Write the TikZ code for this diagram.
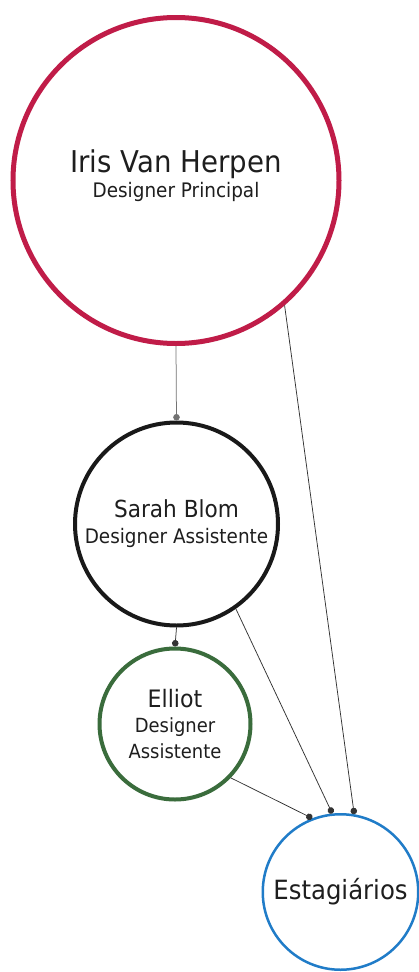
\documentclass[tikz,border=0pt]{standalone}
\usepackage[svgnames]{xcolor}
\usepackage{fontspec}
\setmainfont{DejaVu Sans}[FakeStretch=0.92]
\usetikzlibrary{arrows.meta}

\definecolor{IrisRed}{RGB}{192,28,72}
\definecolor{ElliotGreen}{RGB}{58,108,60}
\definecolor{InternBlue}{RGB}{32,124,200}
\definecolor{TextGray}{RGB}{30,30,30}

\begin{document}
\begin{tikzpicture}[x=1pt, y=-1pt,
  person/.style={circle, draw, fill=white, text=TextGray, align=center, inner sep=0pt},
  link/.style={-{Circle[length=6.5pt]}, draw=black!80, line width=0.75pt}]
\useasboundingbox [fill=white] (0,0) rectangle (419,972);

\node [person, draw=IrisRed, line width=5pt, minimum size=326pt, font=\fontsize{20}{25}\selectfont]
  (Iris) at (176,180.5) {{\fontsize{30}{25}\selectfont Iris Van Herpen}\\Designer Principal\\[-12pt]\mbox{}};
\node [person, draw=black!90, line width=4pt, minimum size=203pt, font=\fontsize{20}{26}\selectfont]
  (Sarah) at (176.5,524) {{\fontsize{23.5}{26}\selectfont Sarah Blom}\\Designer Assistente};
\node [person, draw=ElliotGreen, line width=4pt, minimum size=151pt, font=\fontsize{19.5}{25.6}\selectfont]
  (Elliot) at (175,724) {{\fontsize{24}{25.6}\selectfont Elliot}\\Designer\\Assistente};
\node [person, draw=InternBlue, line width=2.5pt, minimum size=155.5pt, font=\fontsize{26.5}{30}\selectfont]
  (Interns) at (340.5,892) {Estagiários};

\draw [link, draw=black!55] (Iris.south) -- (Sarah.north);
\draw [link] (Iris.-49) -- (Interns.80);
\draw [link] (Sarah.-55) -- (Interns.96);
\draw [link] (Sarah.south) -- (Elliot.north);
\draw [link] (Elliot.-44) -- (Interns.111);
\end{tikzpicture}
\end{document}
